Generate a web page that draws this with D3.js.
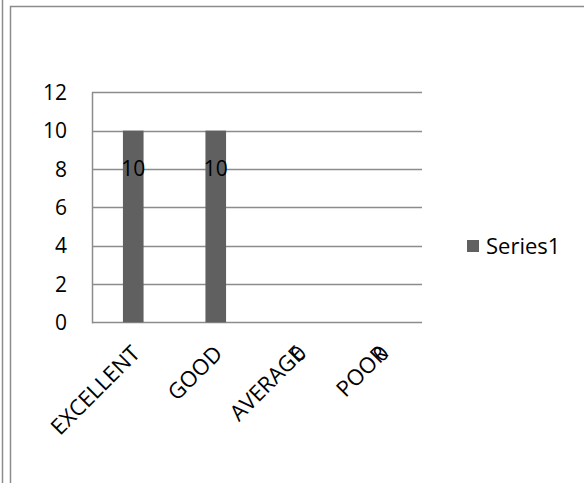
<!DOCTYPE html>
<html><head><meta charset="utf-8">
<script src="https://cdn.jsdelivr.net/npm/d3@7"></script>
<style>body{margin:0;background:#fff}svg{display:block}text{font-family:"Open Sans",sans-serif;fill:#000}</style>
</head><body>
<script>
const categories = ["EXCELLENT","GOOD","AVERAGE","POOR"];
const values = [10,10,0,0];
const yTicks = [0,2,4,6,8,10,12];
const seriesName = "Series1";

const W=584,H=483;
const svg=d3.select("body").append("svg").attr("width",W).attr("height",H);
// borders
svg.append("line").attr("x1",2.5).attr("x2",2.5).attr("y1",0).attr("y2",H).attr("stroke","#8c8c8c").attr("stroke-width",1.5);
svg.append("path").attr("d",`M10.5,${H} V6.5 H${W}`).attr("fill","none").attr("stroke","#8c8c8c").attr("stroke-width",1.5);

const x=d3.scaleBand().domain(categories).range([92,422]).paddingInner(0.75).paddingOuter(0.375);
const xs=d3.scaleBand().domain(categories).range([92,422]);
const y=d3.scaleLinear().domain([0,12]).range([322.3,92.3]);

// gridlines
svg.append("g").selectAll("line").data(yTicks).join("line")
  .attr("x1",92).attr("x2",422).attr("y1",d=>Math.round(y(d))+0.5).attr("y2",d=>Math.round(y(d))+0.5)
  .attr("stroke","#8c8c8c").attr("stroke-width",1.5);
// y axis line
svg.append("line").attr("x1",92.5).attr("x2",92.5).attr("y1",y(12)).attr("y2",y(0)+1).attr("stroke","#8c8c8c").attr("stroke-width",1.5);

// bars
svg.append("g").selectAll("rect").data(values).join("rect")
  .attr("x",(d,i)=>x(categories[i])).attr("width",x.bandwidth())
  .attr("y",d=>y(d)).attr("height",d=>y(0)-y(d)).attr("fill","#606060");

// y tick labels
svg.append("g").selectAll("text").data(yTicks).join("text")
  .attr("x",67).attr("y",d=>y(d)).attr("dy","0.36em").attr("text-anchor","end")
  .style("font-size","21px").text(d=>d);

// category labels
svg.append("g").selectAll("text").data(categories).join("text")
  .attr("transform",d=>`translate(${xs(d)+xs.bandwidth()/2+8},${355}) rotate(-45)`)
  .attr("text-anchor","end").style("font-size","22px").text(d=>d);

// data labels
svg.append("g").selectAll("text").data(values).join("text")
  .attr("transform",(d,i)=>{
    const cx=xs(categories[i])+xs.bandwidth()/2;
    return d>0?`translate(${cx},${y(d)+38})`:`translate(${cx},${y(d)+31}) rotate(-45)`;})
  .attr("text-anchor","middle").attr("dy","0.36em").style("font-size","21px").text(d=>d);

// legend
svg.append("rect").attr("x",467).attr("y",240).attr("width",12).attr("height",12).attr("fill","#606060");
svg.append("text").attr("x",486).attr("y",246).attr("dy","0.36em").style("font-size","22px").text(seriesName);
</script>
</body></html>
